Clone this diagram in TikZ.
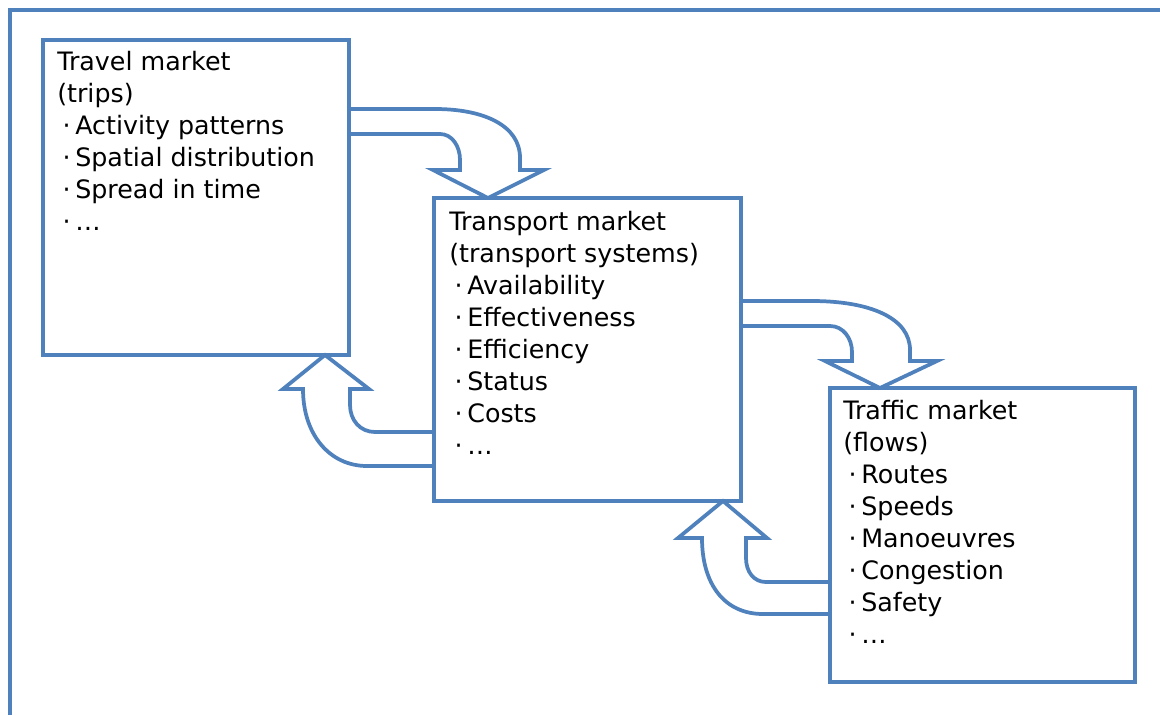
\documentclass[tikz,border=0pt]{standalone}
\usepackage{fontspec}
\setmainfont{DejaVu Sans}
\usetikzlibrary{calc}
\definecolor{frameblue}{HTML}{4F81BD}
\newcommand\mybullet{\hspace*{4pt}·\hspace{3.5pt}}
\begin{document}
\begin{tikzpicture}[x=0.75pt,y=-0.75pt,
  mbox/.style={draw=frameblue, line width=2.8pt, fill=white, rectangle, inner sep=0pt, outer sep=0pt, anchor=north west},
  mtext/.style={anchor=north west, inner sep=0pt, align=left, font=\fontsize{19}{24}\selectfont, text=black},
  blockarrow/.style={draw=frameblue, line width=2.8pt, fill=white, line join=miter},
  outerframe/.style={draw=frameblue, line width=2.8pt}]
\useasboundingbox (0,0) rectangle (1160,715);
\fill[white] (0,0) rectangle (1160,715);
\draw[outerframe] (10,715) -- (10,10) -- (1160,10);

% boxes
\node[mbox, minimum width=229.5pt, minimum height=236.25pt] (travel) at (43,40) {};
\node[mbox, minimum width=230.25pt, minimum height=227.25pt] (transport) at (434,198) {};
\node[mbox, minimum width=228.75pt, minimum height=220.5pt] (traffic) at (830,388) {};

% block arrows
% travel -> transport
\draw[blockarrow] (travel.east |- 0,109) -- (435,109)
  .. controls (483,109) and (520,125) .. (520,158) -- (520,170)
  -- (544,170) -- (transport.north -| 488,0) -- (433,170) -- (460,170) -- (460,160)
  .. controls (460,146) and (452,134) .. (440,134) -- (travel.east |- 0,134) -- cycle;
% transport -> traffic
\draw[blockarrow] (transport.east |- 0,301) -- (812,301)
  .. controls (870,301) and (910,318) .. (910,350) -- (910,361)
  -- (937,361) -- (traffic.north -| 880,0) -- (825,361) -- (852,361) -- (852,352)
  .. controls (852,338) and (843,326) .. (830,326) -- (transport.east |- 0,326) -- cycle;
% transport -> travel
\draw[blockarrow] (transport.west |- 0,432) -- (375,432)
  .. controls (360,432) and (350,420) .. (350,405) -- (350,389)
  -- (369,389) -- (travel.south -| 325,0) -- (283,389) -- (303,389)
  .. controls (303,435) and (330,466) .. (367,466) -- (transport.west |- 0,466) -- cycle;
% traffic -> transport
\draw[blockarrow] (traffic.west |- 0,582) -- (766,582)
  .. controls (754,582) and (746,572) .. (746,558) -- (746,538)
  -- (767,538) -- (transport.south -| 723,0) -- (678,538) -- (702,538)
  .. controls (702,585) and (725,614) .. (763,614) -- (traffic.west |- 0,614) -- cycle;

% texts
\node[mtext] (travelT) at (57,51) {Travel market\\(trips)\\\mybullet Activity patterns\\\mybullet Spatial distribution\\\mybullet Spread in time\\\mybullet …};
\node[mtext] (transportT) at (449,211) {Transport market\\(transport systems)\\\mybullet Availability\\\mybullet Effectiveness\\\mybullet Efficiency\\\mybullet Status\\\mybullet Costs\\\mybullet …};
\node[mtext] (trafficT) at (843,400) {Traffic market\\(flows)\\\mybullet Routes\\\mybullet Speeds\\\mybullet Manoeuvres\\\mybullet Congestion\\\mybullet Safety\\\mybullet …};
\end{tikzpicture}
\end{document}
